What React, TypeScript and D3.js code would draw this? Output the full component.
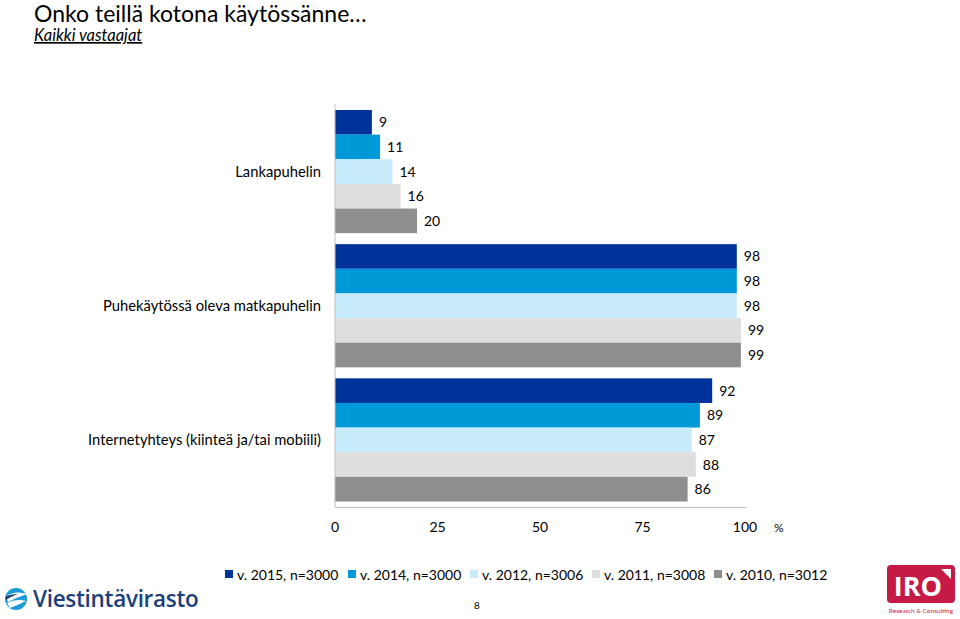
import React from "react";
import * as d3 from "d3";

const categories = [
  "Lankapuhelin",
  "Puhekäytössä oleva matkapuhelin",
  "Internetyhteys (kiinteä ja/tai mobiili)",
];
const seriesNames = [
  "v. 2015, n=3000",
  "v. 2014, n=3000",
  "v. 2012, n=3006",
  "v. 2011, n=3008",
  "v. 2010, n=3012",
];
const seriesColors = ["#00339A", "#0099D8", "#C8EBFB", "#DEDEDE", "#8E8E8E"];
const v2015 = [9, 98, 92];
const v2014 = [11, 98, 89];
const v2012 = [14, 98, 87];
const v2011 = [16, 99, 88];
const v2010 = [20, 99, 86];
const seriesValues = [v2015, v2014, v2012, v2011, v2010];
const xTicks = [0, 25, 50, 75, 100];

const W = 960;
const H = 619;
const FONT = "Lato, 'Open Sans', sans-serif";

export default function App() {
  const x = d3.scaleLinear().domain([0, 100]).range([335, 745]);
  const y = d3
    .scaleBand<string>()
    .domain(categories)
    .range([104.5, 507])
    .paddingInner(0.082)
    .paddingOuter(0.041);
  const inner = d3
    .scaleBand<string>()
    .domain(seriesNames)
    .range([0, y.bandwidth()]);

  const legendX = [225, 348, 470, 592, 714];

  return (
    <svg
      width={W}
      height={H}
      style={{ position: "absolute", left: 0, top: 0, background: "#fff" }}
      fontFamily={FONT}
    >
      <rect width={W} height={H} fill="#fff" />
      <text x={34} y={22} fontSize={23} fill="#000">
        Onko teillä kotona käytössänne…
      </text>
      <text
        x={34}
        y={41}
        fontSize={16.5}
        fontStyle="italic"
        fill="#000"
        textDecoration="underline"
      >
        Kaikki vastaajat
      </text>

      {categories.map((c, ci) => (
        <g key={c}>
          {seriesNames.map((s, si) => {
            const v = seriesValues[si][ci];
            const yy = (y(c) as number) + (inner(s) as number);
            const h = inner.bandwidth();
            return (
              <g key={s}>
                <rect
                  x={x(0)}
                  y={yy}
                  width={x(v) - x(0)}
                  height={h}
                  fill={seriesColors[si]}
                />
                <text
                  x={x(v) + 7}
                  y={yy + h / 2 + 5}
                  fontSize={14}
                  fill="#000"
                >
                  {v}
                </text>
              </g>
            );
          })}
          <text
            x={321}
            y={(y(c) as number) + y.bandwidth() / 2 + 5}
            fontSize={14.75}
            textAnchor="end"
            fill="#000"
          >
            {c}
          </text>
        </g>
      ))}

      <line x1={x(0)} x2={x(0)} y1={104} y2={507} stroke="#BFBFBF" strokeWidth={1} />
      <line x1={x(0)} x2={746} y1={507.5} y2={507.5} stroke="#BFBFBF" strokeWidth={1} />

      {xTicks.map((t) => (
        <text key={t} x={x(t)} y={532} fontSize={14} textAnchor="middle" fill="#000">
          {t}
        </text>
      ))}
      <text x={774} y={532} fontSize={12} fill="#000">
        %
      </text>

      {seriesNames.map((s, i) => (
        <g key={s}>
          <rect x={legendX[i]} y={570} width={8} height={8} fill={seriesColors[i]} />
          <text x={legendX[i] + 12} y={580} fontSize={14} fill="#000">
            {s}
          </text>
        </g>
      ))}

      <text x={477} y={609} fontSize={10} textAnchor="middle" fill="#000">
        8
      </text>

      {/* Viestintävirasto logo */}
      <g>
        <circle cx={16} cy={599} r={11} fill="#1A9BD7" />
        <path d="M6,596 Q16,590 27,594 Q18,597 8,602 Z" fill="#fff" />
        <path d="M7,603 Q16,598 26,601 Q18,605 10,608 Z" fill="#fff" />
        <path d="M6,596 Q12,594 18,594 Q10,597 6,600 Z" fill="#1B3F7A" />
        <text x={33} y={607} fontSize={22.5} fontWeight={600} fill="#1B3F7A" fontFamily="'Open Sans', sans-serif" letterSpacing={-0.3}>
          Viestintävirasto
        </text>
      </g>

      {/* IRO logo */}
      <g>
        <rect x={887} y={565} width={68} height={38} rx={4} fill="#C41A45" />
        <text x={918} y={596} fontSize={27} fontWeight={700} fill="#fff" textAnchor="middle" fontFamily="'Open Sans', sans-serif">
          IRO
        </text>
        <path d="M941,569 L951,569 L951,579 Z" fill="#fff" />
        <text x={921} y={613} fontSize={6.5} fill="#C41A45" textAnchor="middle">
          Research &amp; Consulting
        </text>
      </g>
    </svg>
  );
}
